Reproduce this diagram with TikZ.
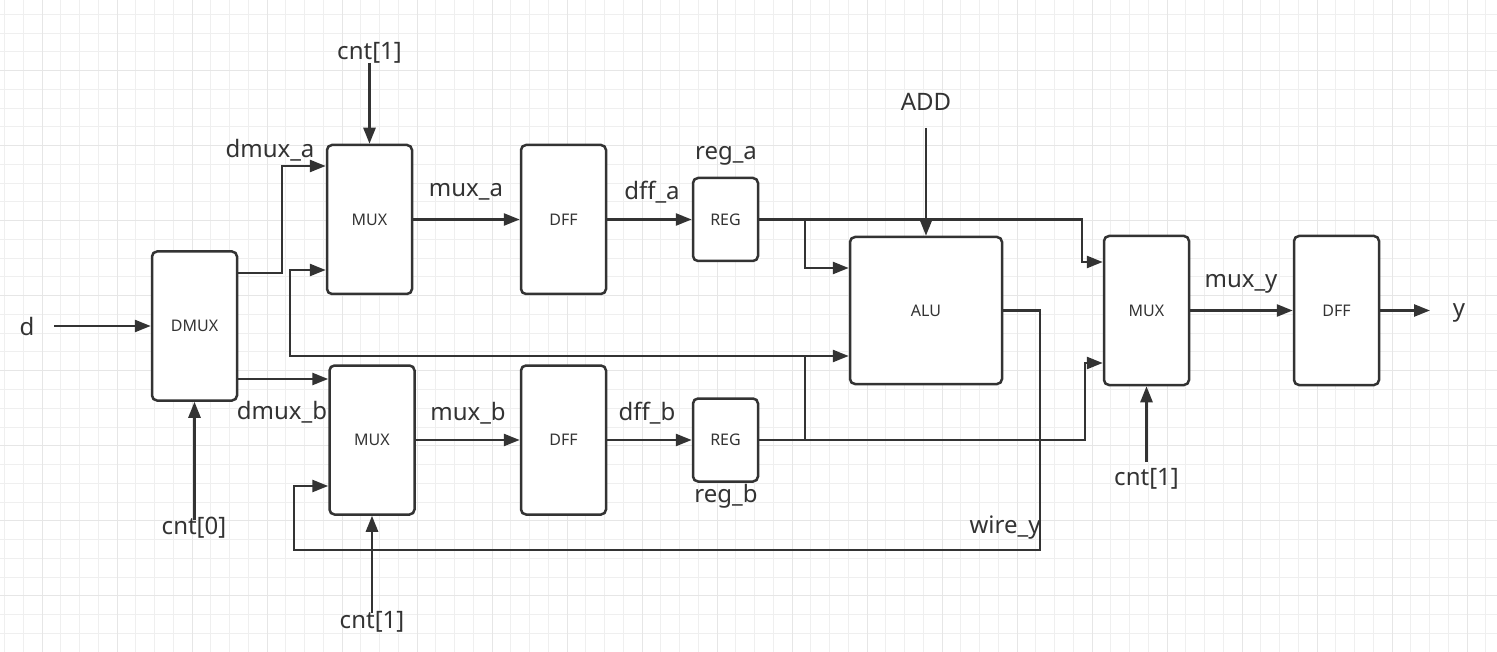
\documentclass[tikz,border=0pt]{standalone}
\usepackage{fontspec}
\setmainfont{Noto Sans}
\usetikzlibrary{arrows.meta,calc}
\definecolor{ink}{HTML}{333333}
\definecolor{gridminor}{HTML}{EFEFEF}
\definecolor{gridmajor}{HTML}{E6E6E6}
\begin{document}
\begin{tikzpicture}[x=1pt,y=-1pt,
        blk/.style={draw=ink,line width=2.5pt,rounded corners=5pt,fill=white,
            text=ink,font=\fontsize{16}{19}\selectfont,inner sep=0pt,
            minimum width=85pt,minimum height=149pt},
        reg/.style={blk,minimum width=65pt,minimum height=83pt},
        sig/.style={text=ink,font=\fontsize{24}{28}\selectfont,inner sep=0pt},
        wire/.style={draw=ink,line width=2.5pt},
        arr/.style={wire,-{Triangle[length=16pt,width=12pt]}}]
    \useasboundingbox (0,0) rectangle (1497,652);
    \fill[white] (0,0) rectangle (1497,652);
    % grid
    \foreach \x in {4.5,23.25,...,1497} \draw[gridminor,line width=1pt] (\x,0) -- (\x,652);
    \foreach \y in {14.5,33.25,...,652} \draw[gridminor,line width=1pt] (0,\y) -- (1497,\y);
    \foreach \x in {42,117,...,1497} \draw[gridmajor,line width=1pt] (\x,0) -- (\x,652);
    \foreach \y in {70.7,145.7,...,652} \draw[gridmajor,line width=1pt] (0,\y) -- (1497,\y);

    % blocks
    \node[blk] (dmux) at (194.5,326) {DMUX};
    \node[blk] (muxa) at (369.5,219.5) {MUX};
    \node[blk] (dffa) at (563.5,219.5) {DFF};
    \node[reg] (rega) at (725.5,219.5) {REG};
    \node[blk] (muxb) at (372,440) {MUX};
    \node[blk] (dffb) at (563.5,440) {DFF};
    \node[reg] (regb) at (725.5,440) {REG};
    \node[blk,minimum width=152pt,minimum height=147pt] (alu) at (926,310.5) {ALU};
    \node[blk] (muxy) at (1146.5,310.5) {MUX};
    \node[blk] (dffy) at (1336.5,310.5) {DFF};

    % signal names
    \node[sig] (d) at (27,327) {d};
    \node[sig] (cnt0) at (194,528) {cnt[0]};
    \node[sig] (cnta) at (369.5,53) {cnt[1]};
    \node[sig] (cntb) at (372,622) {cnt[1]};
    \node[sig] (cnty) at (1146.5,479) {cnt[1]};
    \node[sig] (add) at (926,102) {ADD};
    \node[sig] (ldmuxa) at (270,150) {dmux\_a};
    \node[sig] (ldmuxb) at (282,412) {dmux\_b};
    \node[sig] (lmuxa) at (466,192) {mux\_a};
    \node[sig] (lmuxb) at (468,413) {mux\_b};
    \node[sig] (ldffa) at (652,192) {dff\_a};
    \node[sig] (ldffb) at (647,413) {dff\_b};
    \node[sig] (lrega) at (726,156) {reg\_a};
    \node[sig] (lregb) at (726,496) {reg\_b};
    \node[sig] (lwire) at (1005,528) {wire\_y};
    \node[sig] (lmuxy) at (1241,284) {mux\_y};
    \node[sig] (y) at (1459,313) {y};

    \coordinate (din) at (54,326);
    \coordinate (c0in) at (194.5,520);
    \coordinate (c1ain) at (369.5,63);
    \coordinate (c1bin) at (372,613);
    \coordinate (c1yin) at (1146.5,462);
    \coordinate (addin) at (926,128);
    \coordinate (yout) at (1430,310.5);

    % wires
    \draw[arr] (din) -- (dmux.west);
    \draw[arr] (c0in) -- (dmux.south);
    \draw[arr] (dmux.east |- 0,273) -| (282,166) -- (muxa.west |- 0,166);
    \draw[arr] (dmux.east |- 0,379) -- (muxb.west |- 0,379);
    \draw[arr] (c1ain) -- (muxa.north);
    \draw[arr] (c1bin) -- (muxb.south);
    \draw[arr] (muxa.east) -- (dffa.west);
    \draw[arr] (dffa.east) -- (rega.west);
    \draw[arr] (muxb.east) -- (dffb.west);
    \draw[arr] (dffb.east) -- (regb.west);
    \draw[arr] (rega.east) -| (805,268) -- (alu.west |- 0,268);
    \draw[arr] (805,219.5) -- (1082,219.5) |- (muxy.west |- 0,262);
    \draw[arr] (regb.east) -| (805,356) -- (alu.west |- 0,356);
    \draw[arr] (805,440) -| (1085,363) -- (muxy.west |- 0,363);
    \draw[arr] (805,356) -| (290,270) -- (muxa.west |- 0,270);
    \draw[arr] (addin) -- (alu.north);
    \draw[arr] (alu.east) -| (1040,550) -| (294,486) -- (muxb.west |- 0,486);
    \draw[arr] (c1yin) -- (muxy.south);
    \draw[arr] (muxy.east) -- (dffy.west);
    \draw[arr] (dffy.east) -- (yout);
\end{tikzpicture}
\end{document}
